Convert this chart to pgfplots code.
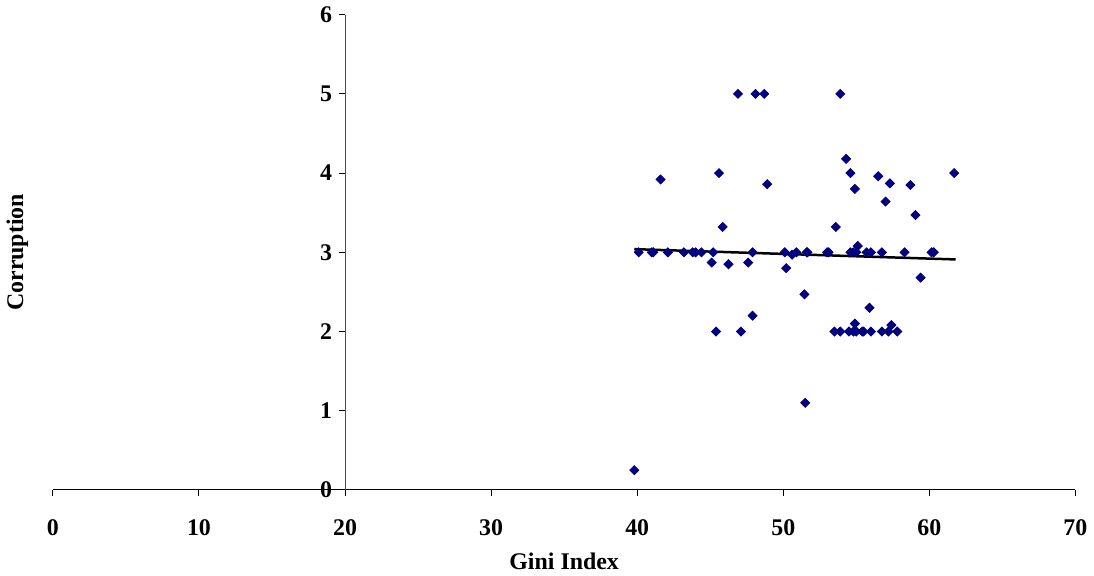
\documentclass[border=0pt]{standalone}
\usepackage{fontspec}
\setmainfont{Liberation Serif}
\usepackage{pgfplots}
\pgfplotsset{compat=1.18}
\definecolor{navymark}{RGB}{0,0,128}
\begin{document}
\begin{tikzpicture}
\pgfplotsset{every axis/.append style={
  font=\fontsize{12}{14}\selectfont\bfseries,
  scale only axis, height=238bp,
  /pgf/number format/assume math mode=true,
  major tick length=3bp,
  tick style={line width=0.5bp, black},
}}
% axis A: x axis from 0 to 70
\begin{axis}[
  at={(0bp,0bp)}, anchor=south west, width=512bp,
  xmin=0, xmax=70, ymin=0, ymax=6,
  axis x line=bottom, axis y line=none,
  x axis line style={-, line width=0.5bp, black},
  xtick={0,10,20,30,40,50,60,70}, ytick=\empty,
  xtick align=outside,
  xticklabel style={yshift=-8.5bp},
  xlabel={Gini Index},
  xlabel style={at={(rel axis cs:0.5,0)}, anchor=center, yshift=-35.5bp},
]
\addplot[draw=none, forget plot] coordinates {(0,0)};
\end{axis}
% axis B: data and y axis at x = 20
\begin{axis}[
  at={(146.2857bp,0bp)}, anchor=south west, width=365.7143bp,
  xmin=20, xmax=70, ymin=0, ymax=6,
  axis y line=left, axis x line=none,
  y axis line style={-, line width=0.5bp, black!70},
  xtick=\empty, ytick={0,1,2,3,4,5,6},
  ytick align=outside,
  ylabel={Corruption},
  ylabel style={at={(rel axis cs:-0.4485,0.5)}, anchor=center},
  clip=false,
]
\addplot[only marks, mark=square*, mark size=1.6bp,
  mark options={fill=navymark, draw=navymark, rotate=45}]
coordinates {
(39.8,0.25) (40.1,3) (41.0,3) (41.1,3) (41.6,3.92) (42.1,3) (43.2,3)
(43.8,3) (44.0,3) (44.4,3) (45.1,2.87) (45.2,3) (45.4,2.0) (45.6,4.0)
(45.85,3.32) (46.25,2.85) (46.9,5) (47.1,2.0) (47.6,2.87) (47.9,3)
(47.9,2.2) (48.1,5) (48.7,5) (48.9,3.86) (50.1,3) (50.2,2.8) (50.6,2.97)
(50.9,3) (51.45,2.47) (51.5,1.1) (51.6,3) (51.65,3) (53.0,3) (53.1,3)
(53.5,2.0) (53.6,3.32) (53.9,5) (53.9,2.0) (54.3,4.18) (54.5,2.0)
(54.6,4.0) (54.6,3) (54.8,3) (54.8,2.0) (54.9,3.8) (54.9,2.1) (55.0,3)
(55.0,2.0) (55.1,3.08) (55.4,2.0) (55.5,2.0) (55.7,3) (55.9,2.3) (56.0,3)
(56.0,2.0) (56.5,3.96) (56.75,3) (56.75,2.0) (57.0,3.64) (57.2,2.0)
(57.3,3.87) (57.4,2.08) (57.8,2.0) (58.3,3) (58.7,3.85) (59.05,3.47)
(59.4,2.68) (60.15,3) (60.3,3) (61.7,4.0)
};
\addplot[black, line width=1.25bp, mark=none] coordinates {(39.8,3.04) (61.8,2.91)};
\end{axis}
\end{tikzpicture}
\end{document}
